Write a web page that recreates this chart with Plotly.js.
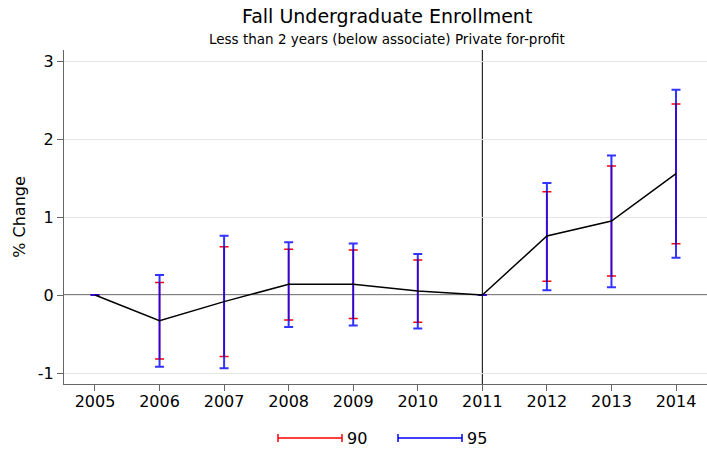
<!DOCTYPE html>
<html>
<head>
<meta charset="utf-8">
<script src="https://cdn.plot.ly/plotly-3.0.1.min.js"></script>
<style>html,body{margin:0;padding:0;background:#fff}#chart{width:707px;height:453px}</style>
</head>
<body>
<div id="chart"></div>
<script>
const years = [2005, 2006, 2007, 2008, 2009, 2010, 2011, 2012, 2013, 2014];
const estimate = [0, -0.33, -0.085, 0.137, 0.137, 0.05, 0, 0.756, 0.949, 1.556];
const lo90 = [0, -0.82, -0.79, -0.32, -0.30, -0.35, 0, 0.175, 0.244, 0.658];
const hi90 = [0, 0.16, 0.62, 0.585, 0.577, 0.449, 0, 1.325, 1.654, 2.45];
const lo95 = [0, -0.92, -0.94, -0.41, -0.39, -0.43, 0, 0.06, 0.10, 0.478];
const hi95 = [0, 0.256, 0.76, 0.675, 0.66, 0.526, 0, 1.436, 1.79, 2.63];
const xTicks = [2005, 2006, 2007, 2008, 2009, 2010, 2011, 2012, 2013, 2014];
const yTicks = [-1, 0, 1, 2, 3];
const breakYear = 2011;
const titleText = 'Fall Undergraduate Enrollment';
const subtitleText = 'Less than 2 years (below associate) Private for-profit';

const plus = (hi) => hi.map((h, i) => h - estimate[i]);
const minus = (lo) => lo.map((l, i) => estimate[i] - l);

const traces = [
  {x: years, y: estimate, type: 'scatter', mode: 'markers', marker: {size: 1, opacity: 0},
   showlegend: false, hoverinfo: 'skip',
   error_y: {type: 'data', symmetric: false, array: plus(hi90), arrayminus: minus(lo90), color: 'red', thickness: 1.5, width: 4.5}},
  {x: years, y: estimate, type: 'scatter', mode: 'markers', marker: {size: 1, opacity: 0},
   showlegend: false, hoverinfo: 'skip',
   error_y: {type: 'data', symmetric: false, array: plus(hi95), arrayminus: minus(lo95), color: 'rgba(0,0,255,0.8)', thickness: 2, width: 4.5}},
  {x: years, y: estimate, type: 'scatter', mode: 'lines', line: {color: 'black', width: 1.5}, showlegend: false},
  {x: [null], y: [null], type: 'scatter', mode: 'lines', name: '90', line: {color: 'red', width: 1.5}, legend: 'legend'},
  {x: [null], y: [null], type: 'scatter', mode: 'lines', name: '95', line: {color: 'blue', width: 1.5}, legend: 'legend2'}
];

const legendBase = {orientation: 'h', yanchor: 'middle', y: -0.1617, xanchor: 'left', itemwidth: 64,
  font: {size: 16, family: 'DejaVu Sans'}, bgcolor: 'rgba(0,0,0,0)', borderwidth: 0};

// legend key end caps (decoration in paper coordinates)
const capPx = [[278, 'red'], [342, 'red'], [398, 'blue'], [462, 'blue']];
const capShapes = capPx.map(([px, c]) => ({
  type: 'line', xref: 'paper', yref: 'paper',
  x0: (px - 64) / 643, x1: (px - 64) / 643,
  y0: -(434 - 384) / 334, y1: -(442 - 384) / 334,
  line: {color: c, width: 1.5}
}));

const layout = {
  width: 707, height: 453,
  margin: {l: 64, r: 0, t: 50, b: 69, autoexpand: false},
  paper_bgcolor: 'white', plot_bgcolor: 'white',
  font: {family: 'DejaVu Sans', color: 'black', size: 16},
  xaxis: {
    range: [2004.52, 2014.48], tickvals: xTicks, ticktext: xTicks.map(String),
    showgrid: false, zeroline: false, showline: true, linecolor: '#666', linewidth: 1,
    ticks: 'outside', ticklen: 6, tickcolor: '#666', tickfont: {size: 16}, ticklabelstandoff: -3
  },
  yaxis: {
    range: [-1.141, 3.141], tickvals: yTicks, ticktext: yTicks.map(String),
    showgrid: true, gridcolor: '#e6e6e6', gridwidth: 1,
    zeroline: false, showline: true, linecolor: '#666', linewidth: 1,
    ticks: 'outside', ticklen: 6, tickcolor: '#666', tickfont: {size: 16},
    title: {text: '% Change', font: {size: 16}, standoff: 8}
  },
  annotations: [
    {text: titleText, xref: 'paper', yref: 'paper', x: 0.5016, y: 1.1003, xanchor: 'center', yanchor: 'middle',
     showarrow: false, font: {size: 19, family: 'DejaVu Sans'}},
    {text: subtitleText, xref: 'paper', yref: 'paper', x: 0.5016, y: 1.0344, xanchor: 'center', yanchor: 'middle',
     showarrow: false, font: {size: 13.5, family: 'DejaVu Sans'}}
  ],
  shapes: [
    {type: 'line', xref: 'paper', x0: 0, x1: 1, yref: 'y', y0: 0, y1: 0, line: {color: 'black', width: 1}, layer: 'below'},
    {type: 'line', xref: 'x', x0: breakYear, x1: breakYear, yref: 'paper', y0: 0, y1: 1, line: {color: 'black', width: 1}, layer: 'below'}
  ].concat(capShapes),
  legend: Object.assign({}, legendBase, {x: 0.325}),
  legend2: Object.assign({}, legendBase, {x: 0.5117}),
  showlegend: true
};

Plotly.newPlot('chart', traces, layout, {displayModeBar: false, staticPlot: true});
</script>
</body>
</html>
